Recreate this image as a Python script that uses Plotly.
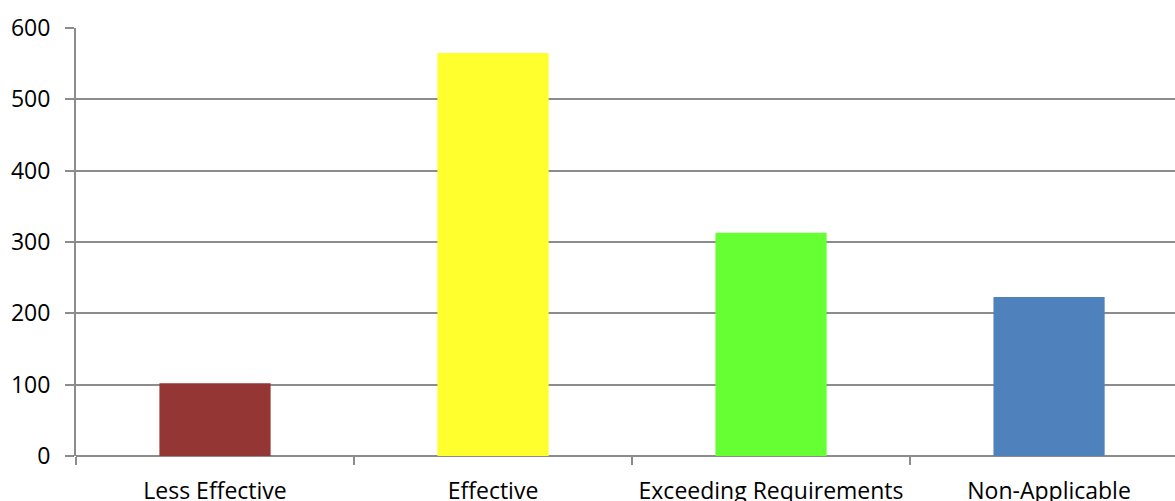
import plotly.graph_objects as go

categories = ["Less Effective", "Effective", "Exceeding Requirements", "Non-Applicable"]
counts = [102, 565, 313, 223]
bar_colors = ["#943634", "#FFFF2E", "#66FF33", "#4F81BD"]

positions = list(range(len(categories)))
grid_color = "#8C8C8C"

fig = go.Figure(
    go.Bar(
        x=positions,
        y=counts,
        marker=dict(color=bar_colors, line=dict(width=0)),
        width=0.4,
        hoverinfo="skip",
    )
)

fig.update_layout(
    width=1175,
    height=501,
    margin=dict(l=76, r=0, t=28, b=45),
    plot_bgcolor="white",
    paper_bgcolor="white",
    showlegend=False,
    font=dict(family="Open Sans", size=23, color="#000000"),
    xaxis=dict(
        range=[-0.5, 3.453],
        tickmode="array",
        tickvals=positions,
        ticktext=categories,
        ticks="",
        showgrid=False,
        showline=False,
        zeroline=False,
        automargin=False,
        ticklabelstandoff=19,
        minor=dict(
            tick0=0.5,
            dtick=1,
            ticks="outside",
            ticklen=8,
            tickwidth=2,
            tickcolor=grid_color,
            showgrid=False,
        ),
    ),
    yaxis=dict(
        range=[0, 600],
        tickmode="array",
        tickvals=[0, 100, 200, 300, 400, 500, 600],
        ticks="outside",
        ticklen=9,
        tickwidth=2,
        tickcolor=grid_color,
        showgrid=True,
        gridcolor=grid_color,
        gridwidth=2,
        showline=True,
        linecolor=grid_color,
        linewidth=2,
        zeroline=True,
        zerolinecolor=grid_color,
        zerolinewidth=2,
        automargin=False,
        ticklabelstandoff=10,
    ),
)

fig.write_html("out.html")
